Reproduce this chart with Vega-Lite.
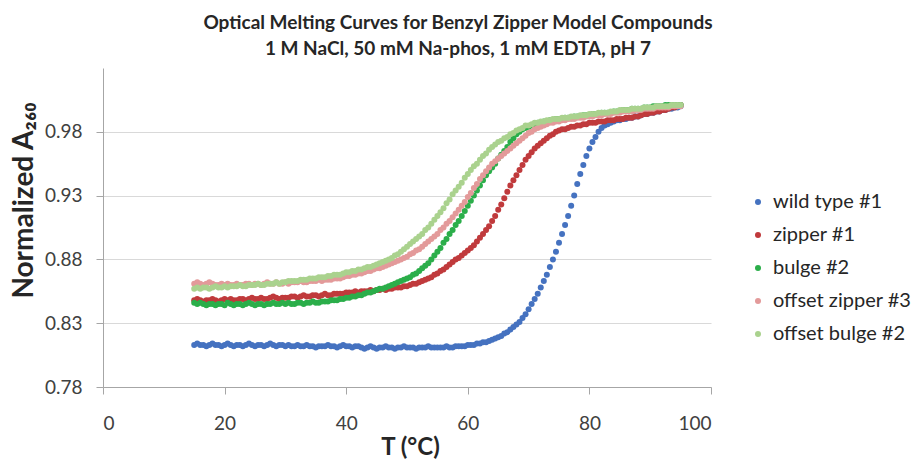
{
"$schema": "https://vega.github.io/schema/vega-lite/v6.json",
"width": 608, "height": 319,
"autosize": {"type": "none"},
"padding": {"left": 103, "top": 68, "right": 208, "bottom": 76},
"background": "white",
"title": {"text": ["Optical Melting Curves for Benzyl Zipper Model Compounds", "1 M NaCl, 50 mM Na-phos, 1 mM EDTA, pH 7"], "font": "Lato", "fontSize": 19, "fontWeight": "bold", "color": "#262626", "anchor": "middle", "frame": "group", "dx": 51, "offset": 9, "lineHeight": 26},
"config": {"view": {"stroke": null}, "font": "Lato"},
"data": {"values": [
{"T":15,"w":0.813,"z":0.848,"b":0.846,"oz":0.861,"ob":0.857},
{"T":15.5,"w":0.814,"z":0.849,"b":0.845,"oz":0.862,"ob":0.858},
{"T":16,"w":0.813,"z":0.848,"b":0.846,"oz":0.861,"ob":0.857},
{"T":16.5,"w":0.813,"z":0.847,"b":0.845,"oz":0.860,"ob":0.858},
{"T":17,"w":0.812,"z":0.848,"b":0.844,"oz":0.861,"ob":0.858},
{"T":17.5,"w":0.813,"z":0.848,"b":0.845,"oz":0.862,"ob":0.857},
{"T":18,"w":0.814,"z":0.849,"b":0.845,"oz":0.861,"ob":0.858},
{"T":18.5,"w":0.813,"z":0.848,"b":0.844,"oz":0.860,"ob":0.859},
{"T":19,"w":0.813,"z":0.847,"b":0.845,"oz":0.860,"ob":0.858},
{"T":19.5,"w":0.812,"z":0.848,"b":0.845,"oz":0.861,"ob":0.858},
{"T":20,"w":0.813,"z":0.849,"b":0.844,"oz":0.860,"ob":0.859},
{"T":20.5,"w":0.814,"z":0.848,"b":0.846,"oz":0.861,"ob":0.858},
{"T":21,"w":0.813,"z":0.849,"b":0.845,"oz":0.860,"ob":0.859},
{"T":21.5,"w":0.812,"z":0.848,"b":0.844,"oz":0.860,"ob":0.859},
{"T":22,"w":0.813,"z":0.848,"b":0.845,"oz":0.861,"ob":0.859},
{"T":22.5,"w":0.813,"z":0.849,"b":0.845,"oz":0.860,"ob":0.860},
{"T":23,"w":0.812,"z":0.849,"b":0.844,"oz":0.860,"ob":0.859},
{"T":23.5,"w":0.813,"z":0.848,"b":0.845,"oz":0.861,"ob":0.859},
{"T":24,"w":0.814,"z":0.849,"b":0.846,"oz":0.861,"ob":0.860},
{"T":24.5,"w":0.813,"z":0.850,"b":0.845,"oz":0.860,"ob":0.860},
{"T":25,"w":0.812,"z":0.849,"b":0.844,"oz":0.861,"ob":0.860},
{"T":25.5,"w":0.813,"z":0.849,"b":0.845,"oz":0.861,"ob":0.861},
{"T":26,"w":0.813,"z":0.850,"b":0.845,"oz":0.860,"ob":0.860},
{"T":26.5,"w":0.812,"z":0.849,"b":0.844,"oz":0.861,"ob":0.860},
{"T":27,"w":0.813,"z":0.849,"b":0.845,"oz":0.862,"ob":0.861},
{"T":27.5,"w":0.814,"z":0.850,"b":0.845,"oz":0.861,"ob":0.861},
{"T":28,"w":0.813,"z":0.851,"b":0.846,"oz":0.861,"ob":0.861},
{"T":28.5,"w":0.812,"z":0.850,"b":0.845,"oz":0.862,"ob":0.862},
{"T":29,"w":0.813,"z":0.849,"b":0.845,"oz":0.861,"ob":0.861},
{"T":29.5,"w":0.813,"z":0.850,"b":0.846,"oz":0.861,"ob":0.862},
{"T":30,"w":0.812,"z":0.850,"b":0.845,"oz":0.862,"ob":0.862},
{"T":30.5,"w":0.813,"z":0.850,"b":0.846,"oz":0.861,"ob":0.863},
{"T":31,"w":0.812,"z":0.851,"b":0.845,"oz":0.862,"ob":0.863},
{"T":31.5,"w":0.812,"z":0.851,"b":0.845,"oz":0.862,"ob":0.863},
{"T":32,"w":0.813,"z":0.850,"b":0.846,"oz":0.862,"ob":0.863},
{"T":32.5,"w":0.812,"z":0.851,"b":0.846,"oz":0.863,"ob":0.864},
{"T":33,"w":0.812,"z":0.852,"b":0.845,"oz":0.862,"ob":0.864},
{"T":33.5,"w":0.813,"z":0.851,"b":0.846,"oz":0.862,"ob":0.864},
{"T":34,"w":0.812,"z":0.851,"b":0.846,"oz":0.863,"ob":0.865},
{"T":34.5,"w":0.812,"z":0.852,"b":0.847,"oz":0.863,"ob":0.865},
{"T":35,"w":0.811,"z":0.852,"b":0.846,"oz":0.863,"ob":0.865},
{"T":35.5,"w":0.812,"z":0.851,"b":0.846,"oz":0.864,"ob":0.866},
{"T":36,"w":0.812,"z":0.852,"b":0.847,"oz":0.863,"ob":0.866},
{"T":36.5,"w":0.812,"z":0.853,"b":0.847,"oz":0.864,"ob":0.866},
{"T":37,"w":0.813,"z":0.852,"b":0.847,"oz":0.864,"ob":0.867},
{"T":37.5,"w":0.812,"z":0.852,"b":0.848,"oz":0.864,"ob":0.867},
{"T":38,"w":0.812,"z":0.853,"b":0.848,"oz":0.865,"ob":0.868},
{"T":38.5,"w":0.811,"z":0.853,"b":0.848,"oz":0.865,"ob":0.868},
{"T":39,"w":0.812,"z":0.853,"b":0.849,"oz":0.865,"ob":0.868},
{"T":39.5,"w":0.813,"z":0.853,"b":0.849,"oz":0.866,"ob":0.869},
{"T":40,"w":0.812,"z":0.854,"b":0.850,"oz":0.867,"ob":0.870},
{"T":40.5,"w":0.812,"z":0.854,"b":0.850,"oz":0.867,"ob":0.870},
{"T":41,"w":0.811,"z":0.854,"b":0.851,"oz":0.868,"ob":0.871},
{"T":41.5,"w":0.812,"z":0.855,"b":0.851,"oz":0.868,"ob":0.871},
{"T":42,"w":0.812,"z":0.854,"b":0.852,"oz":0.869,"ob":0.872},
{"T":42.5,"w":0.811,"z":0.855,"b":0.852,"oz":0.869,"ob":0.872},
{"T":43,"w":0.810,"z":0.855,"b":0.853,"oz":0.870,"ob":0.873},
{"T":43.5,"w":0.811,"z":0.855,"b":0.854,"oz":0.871,"ob":0.874},
{"T":44,"w":0.812,"z":0.856,"b":0.854,"oz":0.871,"ob":0.874},
{"T":44.5,"w":0.811,"z":0.855,"b":0.855,"oz":0.872,"ob":0.875},
{"T":45,"w":0.810,"z":0.856,"b":0.856,"oz":0.873,"ob":0.876},
{"T":45.5,"w":0.811,"z":0.856,"b":0.857,"oz":0.873,"ob":0.877},
{"T":46,"w":0.811,"z":0.857,"b":0.857,"oz":0.874,"ob":0.878},
{"T":46.5,"w":0.812,"z":0.856,"b":0.858,"oz":0.875,"ob":0.879},
{"T":47,"w":0.811,"z":0.857,"b":0.859,"oz":0.876,"ob":0.880},
{"T":47.5,"w":0.811,"z":0.857,"b":0.860,"oz":0.877,"ob":0.881},
{"T":48,"w":0.810,"z":0.858,"b":0.861,"oz":0.878,"ob":0.883},
{"T":48.5,"w":0.811,"z":0.858,"b":0.862,"oz":0.879,"ob":0.884},
{"T":49,"w":0.811,"z":0.858,"b":0.863,"oz":0.880,"ob":0.886},
{"T":49.5,"w":0.812,"z":0.859,"b":0.864,"oz":0.881,"ob":0.888},
{"T":50,"w":0.811,"z":0.859,"b":0.865,"oz":0.882,"ob":0.890},
{"T":50.5,"w":0.811,"z":0.860,"b":0.866,"oz":0.884,"ob":0.892},
{"T":51,"w":0.811,"z":0.861,"b":0.868,"oz":0.885,"ob":0.894},
{"T":51.5,"w":0.810,"z":0.861,"b":0.869,"oz":0.887,"ob":0.896},
{"T":52,"w":0.811,"z":0.862,"b":0.871,"oz":0.888,"ob":0.898},
{"T":52.5,"w":0.811,"z":0.863,"b":0.873,"oz":0.890,"ob":0.900},
{"T":53,"w":0.811,"z":0.864,"b":0.875,"oz":0.892,"ob":0.903},
{"T":53.5,"w":0.812,"z":0.865,"b":0.877,"oz":0.894,"ob":0.905},
{"T":54,"w":0.811,"z":0.866,"b":0.880,"oz":0.896,"ob":0.908},
{"T":54.5,"w":0.811,"z":0.868,"b":0.883,"oz":0.898,"ob":0.911},
{"T":55,"w":0.811,"z":0.869,"b":0.886,"oz":0.900,"ob":0.914},
{"T":55.5,"w":0.811,"z":0.871,"b":0.889,"oz":0.903,"ob":0.917},
{"T":56,"w":0.811,"z":0.872,"b":0.893,"oz":0.905,"ob":0.920},
{"T":56.5,"w":0.812,"z":0.874,"b":0.896,"oz":0.908,"ob":0.924},
{"T":57,"w":0.811,"z":0.876,"b":0.900,"oz":0.910,"ob":0.927},
{"T":57.5,"w":0.811,"z":0.878,"b":0.903,"oz":0.913,"ob":0.931},
{"T":58,"w":0.812,"z":0.880,"b":0.907,"oz":0.916,"ob":0.934},
{"T":58.5,"w":0.812,"z":0.881,"b":0.910,"oz":0.919,"ob":0.937},
{"T":59,"w":0.812,"z":0.883,"b":0.914,"oz":0.922,"ob":0.940},
{"T":59.5,"w":0.812,"z":0.885,"b":0.918,"oz":0.925,"ob":0.944},
{"T":60,"w":0.813,"z":0.887,"b":0.922,"oz":0.929,"ob":0.947},
{"T":60.5,"w":0.813,"z":0.889,"b":0.926,"oz":0.932,"ob":0.950},
{"T":61,"w":0.813,"z":0.891,"b":0.930,"oz":0.936,"ob":0.953},
{"T":61.5,"w":0.814,"z":0.894,"b":0.934,"oz":0.939,"ob":0.955},
{"T":62,"w":0.814,"z":0.897,"b":0.938,"oz":0.943,"ob":0.958},
{"T":62.5,"w":0.815,"z":0.900,"b":0.942,"oz":0.946,"ob":0.961},
{"T":63,"w":0.815,"z":0.903,"b":0.946,"oz":0.949,"ob":0.963},
{"T":63.5,"w":0.816,"z":0.906,"b":0.949,"oz":0.952,"ob":0.966},
{"T":64,"w":0.817,"z":0.910,"b":0.952,"oz":0.955,"ob":0.968},
{"T":64.5,"w":0.818,"z":0.914,"b":0.955,"oz":0.957,"ob":0.970},
{"T":65,"w":0.819,"z":0.919,"b":0.959,"oz":0.959,"ob":0.972},
{"T":65.5,"w":0.820,"z":0.923,"b":0.962,"oz":0.961,"ob":0.973},
{"T":66,"w":0.822,"z":0.928,"b":0.965,"oz":0.963,"ob":0.975},
{"T":66.5,"w":0.823,"z":0.933,"b":0.968,"oz":0.965,"ob":0.976},
{"T":67,"w":0.825,"z":0.938,"b":0.972,"oz":0.967,"ob":0.978},
{"T":67.5,"w":0.827,"z":0.942,"b":0.975,"oz":0.969,"ob":0.979},
{"T":68,"w":0.829,"z":0.946,"b":0.978,"oz":0.971,"ob":0.981},
{"T":68.5,"w":0.831,"z":0.950,"b":0.980,"oz":0.973,"ob":0.982},
{"T":69,"w":0.834,"z":0.954,"b":0.982,"oz":0.975,"ob":0.983},
{"T":69.5,"w":0.837,"z":0.958,"b":0.983,"oz":0.977,"ob":0.985},
{"T":70,"w":0.841,"z":0.961,"b":0.984,"oz":0.979,"ob":0.985},
{"T":70.5,"w":0.845,"z":0.964,"b":0.985,"oz":0.980,"ob":0.986},
{"T":71,"w":0.849,"z":0.967,"b":0.986,"oz":0.982,"ob":0.987},
{"T":71.5,"w":0.853,"z":0.969,"b":0.987,"oz":0.983,"ob":0.987},
{"T":72,"w":0.858,"z":0.971,"b":0.987,"oz":0.984,"ob":0.988},
{"T":72.5,"w":0.863,"z":0.973,"b":0.988,"oz":0.985,"ob":0.988},
{"T":73,"w":0.868,"z":0.975,"b":0.988,"oz":0.986,"ob":0.989},
{"T":73.5,"w":0.874,"z":0.977,"b":0.989,"oz":0.987,"ob":0.989},
{"T":74,"w":0.880,"z":0.978,"b":0.989,"oz":0.987,"ob":0.990},
{"T":74.5,"w":0.886,"z":0.980,"b":0.990,"oz":0.988,"ob":0.990},
{"T":75,"w":0.893,"z":0.981,"b":0.990,"oz":0.988,"ob":0.990},
{"T":75.5,"w":0.900,"z":0.982,"b":0.990,"oz":0.989,"ob":0.991},
{"T":76,"w":0.907,"z":0.982,"b":0.991,"oz":0.989,"ob":0.991},
{"T":76.5,"w":0.914,"z":0.983,"b":0.991,"oz":0.990,"ob":0.991},
{"T":77,"w":0.922,"z":0.984,"b":0.991,"oz":0.990,"ob":0.992},
{"T":77.5,"w":0.930,"z":0.984,"b":0.992,"oz":0.990,"ob":0.992},
{"T":78,"w":0.939,"z":0.985,"b":0.992,"oz":0.991,"ob":0.992},
{"T":78.5,"w":0.947,"z":0.985,"b":0.992,"oz":0.991,"ob":0.993},
{"T":79,"w":0.954,"z":0.986,"b":0.993,"oz":0.991,"ob":0.993},
{"T":79.5,"w":0.961,"z":0.986,"b":0.993,"oz":0.992,"ob":0.993},
{"T":80,"w":0.967,"z":0.987,"b":0.993,"oz":0.992,"ob":0.994},
{"T":80.5,"w":0.972,"z":0.987,"b":0.994,"oz":0.992,"ob":0.994},
{"T":81,"w":0.976,"z":0.987,"b":0.994,"oz":0.993,"ob":0.994},
{"T":81.5,"w":0.980,"z":0.988,"b":0.994,"oz":0.993,"ob":0.995},
{"T":82,"w":0.983,"z":0.988,"b":0.995,"oz":0.993,"ob":0.995},
{"T":82.5,"w":0.985,"z":0.988,"b":0.995,"oz":0.994,"ob":0.995},
{"T":83,"w":0.986,"z":0.989,"b":0.995,"oz":0.994,"ob":0.995},
{"T":83.5,"w":0.987,"z":0.989,"b":0.995,"oz":0.994,"ob":0.996},
{"T":84,"w":0.988,"z":0.989,"b":0.996,"oz":0.995,"ob":0.996},
{"T":84.5,"w":0.989,"z":0.990,"b":0.996,"oz":0.995,"ob":0.996},
{"T":85,"w":0.989,"z":0.990,"b":0.996,"oz":0.995,"ob":0.997},
{"T":85.5,"w":0.990,"z":0.990,"b":0.997,"oz":0.996,"ob":0.997},
{"T":86,"w":0.990,"z":0.991,"b":0.997,"oz":0.996,"ob":0.997},
{"T":86.5,"w":0.991,"z":0.991,"b":0.997,"oz":0.996,"ob":0.997},
{"T":87,"w":0.991,"z":0.991,"b":0.998,"oz":0.996,"ob":0.998},
{"T":87.5,"w":0.992,"z":0.992,"b":0.998,"oz":0.997,"ob":0.998},
{"T":88,"w":0.992,"z":0.992,"b":0.998,"oz":0.997,"ob":0.998},
{"T":88.5,"w":0.993,"z":0.993,"b":0.998,"oz":0.997,"ob":0.998},
{"T":89,"w":0.994,"z":0.994,"b":0.999,"oz":0.998,"ob":0.999},
{"T":89.5,"w":0.994,"z":0.994,"b":0.999,"oz":0.998,"ob":0.999},
{"T":90,"w":0.995,"z":0.995,"b":0.999,"oz":0.998,"ob":0.999},
{"T":90.5,"w":0.995,"z":0.995,"b":1.000,"oz":0.998,"ob":0.999},
{"T":91,"w":0.996,"z":0.996,"b":1.000,"oz":0.999,"ob":1.000},
{"T":91.5,"w":0.996,"z":0.996,"b":1.000,"oz":0.999,"ob":1.000},
{"T":92,"w":0.997,"z":0.997,"b":1.000,"oz":0.999,"ob":1.000},
{"T":92.5,"w":0.997,"z":0.997,"b":1.001,"oz":0.999,"ob":1.000},
{"T":93,"w":0.998,"z":0.998,"b":1.001,"oz":0.999,"ob":1.000},
{"T":93.5,"w":0.998,"z":0.999,"b":1.001,"oz":1.000,"ob":1.001},
{"T":94,"w":0.999,"z":0.999,"b":1.001,"oz":1.000,"ob":1.001},
{"T":94.5,"w":0.999,"z":1.000,"b":1.001,"oz":1.000,"ob":1.001},
{"T":95,"w":1.000,"z":1.001,"b":1.001,"oz":1.000,"ob":1.001}
]},
"encoding": {
  "x": {"field": "T", "type": "quantitative", "scale": {"domain": [0, 100], "nice": false},
    "axis": {"values": [0, 20, 40, 60, 80, 100], "title": "T (°C)", "grid": false, "domainColor": "#A6A6A6", "tickColor": "#A6A6A6", "tickSize": 7, "labelFont": "Lato", "labelFontSize": 19, "labelColor": "#404040", "labelPadding": 20, "titleFont": "Lato", "titleFontSize": 24, "titleFontWeight": "bold", "titleColor": "#262626", "titleX": 307, "titleY": 60, "titleBaseline": "middle"}}
},
"layer": [
  {"mark": {"type": "point", "filled": true, "size": 36, "opacity": 1, "strokeWidth": 0},
   "encoding": {
     "y": {"field": "w", "type": "quantitative", "title": "Normalized A₂₆₀", "scale": {"domain": [0.78, 1.03], "nice": false, "zero": false},
       "axis": {"values": [0.78, 0.83, 0.88, 0.93, 0.98], "format": ".2f", "grid": true, "gridColor": "#D9D9D9", "domainColor": "#A6A6A6", "tickColor": "#A6A6A6", "tickSize": 7, "labelFont": "Lato", "labelFontSize": 19, "labelColor": "#404040", "labelPadding": 14, "titleFont": "Lato", "titleFontSize": 28, "titleFontWeight": "bold", "titleColor": "#262626", "titleAngle": -90, "titleX": -79, "titleY": 132, "titleBaseline": "middle"}},
     "color": {"datum": "wild type #1", "type": "nominal",
       "scale": {"domain": ["wild type #1", "zipper #1", "bulge #2", "offset zipper #3", "offset bulge #2"], "range": ["#4572C0", "#C03A3C", "#2BAE4A", "#E39A9A", "#AAD28E"]},
       "legend": {"orient": "none", "legendX": 645, "legendY": 124, "title": null, "padding": 0, "labelFont": "Lato", "labelFontSize": 20, "labelColor": "#262626", "symbolType": "circle", "symbolSize": 36, "symbolStrokeWidth": 0, "rowPadding": 13, "labelOffset": 5}}
   }},
  {"mark": {"type": "point", "filled": true, "size": 36, "opacity": 1, "strokeWidth": 0},
   "encoding": {"y": {"field": "z", "type": "quantitative", "title": "Normalized A₂₆₀"}, "color": {"datum": "zipper #1", "type": "nominal"}}},
  {"mark": {"type": "point", "filled": true, "size": 36, "opacity": 1, "strokeWidth": 0},
   "encoding": {"y": {"field": "b", "type": "quantitative", "title": "Normalized A₂₆₀"}, "color": {"datum": "bulge #2", "type": "nominal"}}},
  {"mark": {"type": "point", "filled": true, "size": 36, "opacity": 1, "strokeWidth": 0},
   "encoding": {"y": {"field": "oz", "type": "quantitative", "title": "Normalized A₂₆₀"}, "color": {"datum": "offset zipper #3", "type": "nominal"}}},
  {"mark": {"type": "point", "filled": true, "size": 36, "opacity": 1, "strokeWidth": 0},
   "encoding": {"y": {"field": "ob", "type": "quantitative", "title": "Normalized A₂₆₀"}, "color": {"datum": "offset bulge #2", "type": "nominal"}}}
]
}
